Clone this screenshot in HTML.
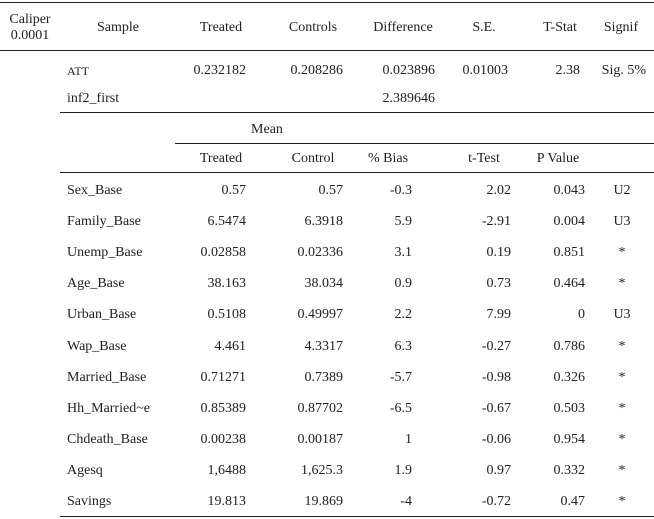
<!DOCTYPE html>
<html><head><meta charset="utf-8">
<style>
body{margin:0;background:#fff;}
#t{position:relative;width:654px;height:519px;font-family:"Liberation Serif",serif;font-size:14px;color:#222;overflow:hidden;}
.c{position:absolute;white-space:nowrap;line-height:16px;transform:translateY(-50%);}
.r{transform:translate(-100%,-50%);}
.m{transform:translate(-50%,-50%);}
.ln{position:absolute;height:1.3px;background:#222;}
</style></head><body>
<div id="t">
<div class="ln" style="left:0;width:654px;top:2px"></div>
<div class="ln" style="left:0;width:654px;top:50px"></div>
<div class="ln" style="left:60px;width:594px;top:112px"></div>
<div class="ln" style="left:175px;width:479px;top:143px"></div>
<div class="ln" style="left:60px;width:594px;top:172px"></div>
<div class="ln" style="left:60px;width:594px;top:516px"></div>
<div class="c m" style="left:30px;top:28px;text-align:center;line-height:16px">Caliper<br>0.0001</div>
</div>
<script>
const headers=["Sample","Treated","Controls","Difference","S.E.","T-Stat","Signif"];
const headerX=[118,221,313,403,484,560,621];
const attRow=["0.232182","0.208286","0.023896","0.01003","2.38","Sig. 5%"];
const subHeaders=["Treated","Control","% Bias","t-Test","P Value"];
const varNames=["Sex_Base","Family_Base","Unemp_Base","Age_Base","Urban_Base","Wap_Base","Married_Base","Hh_Married~e","Chdeath_Base","Agesq","Savings"];
const treated=["0.57","6.5474","0.02858","38.163","0.5108","4.461","0.71271","0.85389","0.00238","1,6488","19.813"];
const control=["0.57","6.3918","0.02336","38.034","0.49997","4.3317","0.7389","0.87702","0.00187","1,625.3","19.869"];
const bias=["-0.3","5.9","3.1","0.9","2.2","6.3","-5.7","-6.5","1","1.9","-4"];
const tTest=["2.02","-2.91","0.19","0.73","7.99","-0.27","-0.98","-0.67","-0.06","0.97","-0.72"];
const pValue=["0.043","0.004","0.851","0.464","0","0.786","0.326","0.503","0.954","0.332","0.47"];
const signif=["U2","U3","*","*","U3","*","*","*","*","*","*"];
const T=document.getElementById('t');
function add(txt,x,y,cls,name){
  const d=document.createElement('div');
  d.className='c '+cls;
  d.style.left=x+'px';d.style.top=y+'px';
  d.textContent=txt;
  
  
  T.appendChild(d);return d;
}
headers.forEach((h,i)=>add(h,headerX[i],28,'m','column-header'));
const att=add('ATT',67,71,'','att-label');att.style.fontVariant='small-caps';att.style.fontSize='12px';
const attX=[246,343,435,508,580,646];
attRow.forEach((v,i)=>add(v,attX[i],71,'r','att-value'));
add('inf2_first',67,99,'','outcome-label');
add('2.389646',435,99,'r','difference-pct');
add('Mean',267,130,'m','mean-header');
const subX=[221,313,388,484,558];
subHeaders.forEach((h,i)=>add(h,subX[i],159,'m','subheader'));
varNames.forEach((n,i)=>{
  const y=191+i*31.1;
  add(n,67,y,'','variable-name');
  add(treated[i],246,y,'r','treated-mean');
  add(control[i],343,y,'r','control-mean');
  add(bias[i],412,y,'r','pct-bias');
  add(tTest[i],511,y,'r','t-test');
  add(pValue[i],585,y,'r','p-value');
  add(signif[i],622,y,'m','signif');
});
</script>
</body></html>
